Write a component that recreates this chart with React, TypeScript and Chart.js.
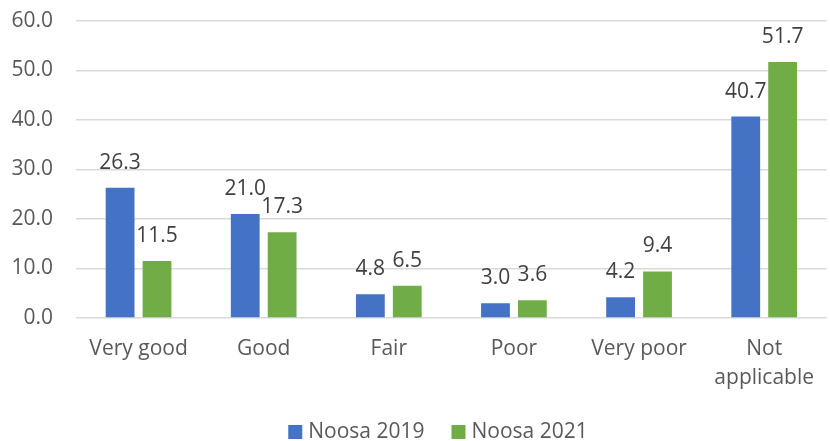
import React, { useEffect, useRef } from "react";
import { Chart, registerables } from "chart.js";

Chart.register(...registerables);

const categories: (string | string[])[] = ["Very good", "Good", "Fair", "Poor", "Very poor", ["Not", "applicable"]];
const noosa2019 = [26.3, 21.0, 4.8, 3.0, 4.2, 40.7];
const noosa2021 = [11.5, 17.3, 6.5, 3.6, 9.4, 51.7];
const seriesNames = ["Noosa 2019", "Noosa 2021"];
const seriesColors = ["#4472C4", "#70AD47"];

const FONT = "'Open Sans', 'Liberation Sans', sans-serif";
const FONT_SIZE = 21;

const dataLabelPlugin = {
  id: "dataLabels",
  afterDatasetsDraw(chart: any) {
    const ctx = chart.ctx;
    ctx.save();
    ctx.font = `${FONT_SIZE}px ${FONT}`;
    ctx.fillStyle = "#404040";
    ctx.textAlign = "center";
    ctx.textBaseline = "middle";
    chart.data.datasets.forEach((ds: any, di: number) => {
      const meta = chart.getDatasetMeta(di);
      meta.data.forEach((bar: any, i: number) => {
        ctx.fillText(Number(ds.data[i]).toFixed(1), bar.x, bar.y - 25);
      });
    });
    ctx.restore();
  },
};

const bottomLegendPlugin = {
  id: "bottomLegend",
  afterDraw(chart: any) {
    const ctx = chart.ctx;
    ctx.save();
    ctx.font = `${FONT_SIZE}px ${FONT}`;
    ctx.textBaseline = "middle";
    ctx.textAlign = "left";
    const box = 14;
    const gapBoxText = 6;
    const gapItems = 27;
    const items = chart.data.datasets.map((ds: any) => ({
      label: ds.label,
      color: ds.backgroundColor,
      w: box + gapBoxText + ctx.measureText(ds.label).width,
    }));
    const total = items.reduce((s: number, it: any) => s + it.w, 0) + gapItems * (items.length - 1);
    let x = chart.width / 2 + 23 - total / 2;
    const cy = 432;
    items.forEach((it: any) => {
      ctx.fillStyle = it.color;
      ctx.fillRect(x, cy - box / 2, box, box);
      ctx.fillStyle = "#595959";
      ctx.fillText(it.label, x + box + gapBoxText, cy);
      x += it.w + gapItems;
    });
    ctx.restore();
  },
};

export default function App() {
  const canvasRef = useRef<HTMLCanvasElement | null>(null);

  useEffect(() => {
    document.body.style.margin = "0";
    const canvas = canvasRef.current;
    if (!canvas) return;
    const chart = new Chart(canvas, {
      type: "bar",
      data: {
        labels: categories,
        datasets: [
          { label: seriesNames[0], data: noosa2019, backgroundColor: seriesColors[0], categoryPercentage: 0.59, barPercentage: 0.78 },
          { label: seriesNames[1], data: noosa2021, backgroundColor: seriesColors[1], categoryPercentage: 0.59, barPercentage: 0.78 },
        ],
      },
      options: {
        animation: false,
        responsive: true,
        maintainAspectRatio: false,
        layout: { padding: { top: 21, right: 0, bottom: 0, left: 0 } },
        plugins: {
          legend: { display: false },
          tooltip: { enabled: false },
          title: { display: false },
        },
        scales: {
          x: {
            grid: { display: false, drawTicks: false },
            border: { display: false },
            ticks: {
              color: "#595959",
              font: { family: FONT, size: FONT_SIZE, lineHeight: 1.4 },
              padding: 16,
              maxRotation: 0,
              autoSkip: false,
            },
            afterFit(scale: any) {
              scale.height = 123;
            },
          },
          y: {
            min: 0,
            max: 60,
            grid: {
              color: "#d9d9d9",
              lineWidth: 1.4,
              drawTicks: true,
              tickLength: 23,
              tickColor: "rgba(0,0,0,0)",
            },
            border: { display: false },
            ticks: {
              stepSize: 10,
              color: "#595959",
              font: { family: FONT, size: FONT_SIZE },
              padding: 0,
              callback: (v: any) => Number(v).toFixed(1),
            },
            afterFit(scale: any) {
              scale.width = 76;
            },
          },
        },
      },
      plugins: [dataLabelPlugin, bottomLegendPlugin],
    });
    return () => chart.destroy();
  }, []);

  return (
    <div style={{ width: 830, height: 441, position: "relative" }}>
      <canvas ref={canvasRef} />
    </div>
  );
}
